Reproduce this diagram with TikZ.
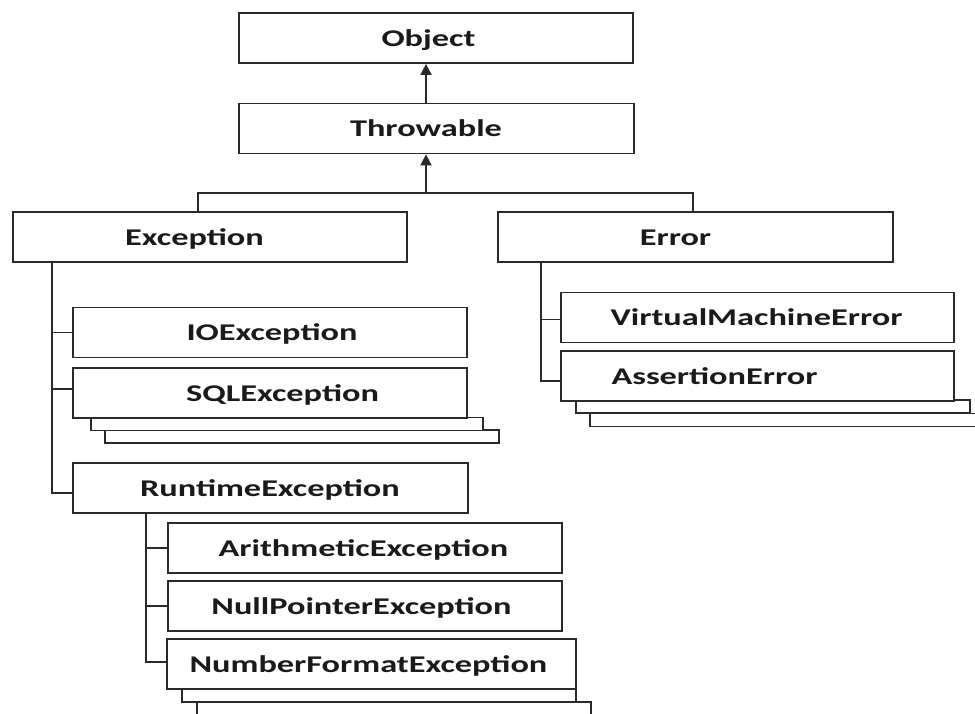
\documentclass[tikz,border=0pt]{standalone}
\usepackage{fontspec}
\newfontfamily\boxfont[FakeStretch=1.43]{Carlito}
\usetikzlibrary{arrows.meta,calc}
\definecolor{ln}{HTML}{2A2A2A}
\definecolor{tx}{HTML}{1A1A1A}
\begin{document}
\begin{tikzpicture}[x=1pt,y=-1pt,
  box/.style={draw=ln, line width=1.8pt, fill=white, inner sep=0pt, minimum height=50pt},
  strip/.style={box, minimum height=13pt},
  lbl/.style={anchor=base, inner sep=0pt, text=tx, font=\boxfont\bfseries\fontsize{24}{24}\selectfont},
  conn/.style={draw=ln, line width=1.8pt},
  arr/.style={conn, -{Triangle[width=11pt,length=11pt]}}]
\useasboundingbox (0,0) rectangle (975,713);
\begin{scope}
\clip (0,0) rectangle (975,713);
% main boxes
\node[box, minimum width=394pt] (Object) at (436,38) {};
\node[box, minimum width=395pt] (Throwable) at (436.5,128.5) {};
\node[box, minimum width=394pt] (Exception) at (210,237) {};
\node[box, minimum width=395pt] (Error) at (695.5,237) {};
\node[box, minimum width=394pt] (IO) at (270,332.5) {};
% SQL stack
\node[strip, minimum width=394pt] (SQLc) at (302,436.5) {};
\node[strip, minimum width=392pt] (SQLb) at (287,424) {};
\node[box, minimum width=394pt] (SQL) at (270,393) {};
% Error stack
\node[strip, minimum width=395pt] (ASc) at (787.5,420) {};
\node[strip, minimum width=394pt] (ASb) at (773,406.5) {};
\node[box, minimum width=393pt] (VME) at (757.5,317.5) {};
\node[box, minimum width=393pt] (AS) at (757.5,376) {};
% Runtime
\node[box, minimum width=395pt] (Runtime) at (270.5,488) {};
\node[box, minimum width=394pt] (Arith) at (365,548) {};
\node[box, minimum width=394pt] (Null) at (365,606) {};
\node[strip, minimum width=394pt] (NFEc) at (394,708.5) {};
\node[strip, minimum width=394pt] (NFEb) at (379,695.5) {};
\node[box, minimum width=409pt] (NFE) at (371.5,664) {};
\end{scope}
% labels
\node[lbl] (tObject) at (428.5,46) {Object};
\node[lbl] (tThrowable) at (426,136.5) {Throwable};
\node[lbl] (tException) at (194.5,245) {Exception};
\node[lbl] (tError) at (675.5,245) {Error};
\node[lbl] (tIO) at (272,340.5) {IOException};
\node[lbl] (tSQL) at (282.5,401) {SQLException};
\node[lbl] (tVME) at (756.5,325.5) {VirtualMachineError};
\node[lbl] (tAS) at (714.5,384) {AssertionError};
\node[lbl] (tRuntime) at (270,496) {RuntimeException};
\node[lbl] (tArith) at (363.5,556) {ArithmeticException};
\node[lbl] (tNull) at (361.5,614) {NullPointerException};
\node[lbl] (tNFE) at (368.5,672) {NumberFormatException};
% connectors
\coordinate (j) at (426,193);
\coordinate (jl) at (198,193);
\coordinate (jr) at (693,193);
\coordinate (ex) at (52,0);
\coordinate (er) at (541,0);
\coordinate (rt) at (146,0);
\coordinate (pRun) at ([yshift=-5pt]Runtime.west);
\coordinate (pSQL) at ([yshift=4pt]SQL.west);
\coordinate (pAS) at ([yshift=-5pt]AS.west);
\coordinate (pVME) at ([yshift=-2pt]VME.west);
\coordinate (pNFE) at ([yshift=2pt]NFE.west);
\draw[arr] (j) -- (j |- Throwable.south);
\draw[arr] (j |- Throwable.north) -- (j |- Object.south);
\draw[conn] (jl |- Exception.north) -- (jl) -- (jr) -- (jr |- Error.north);
\draw[conn] (ex |- Exception.south) -- (ex |- pRun) -- (pRun);
\draw[conn] (ex |- IO.west) -- (IO.west);
\draw[conn] (ex |- pSQL) -- (pSQL);
\draw[conn] (er |- Error.south) -- (er |- pAS) -- (pAS);
\draw[conn] (er |- pVME) -- (pVME);
\draw[conn] (rt |- Runtime.south) -- (rt |- pNFE) -- (pNFE);
\draw[conn] (rt |- Arith.west) -- (Arith.west);
\draw[conn] (rt |- Null.west) -- (Null.west);
\end{tikzpicture}
\end{document}
